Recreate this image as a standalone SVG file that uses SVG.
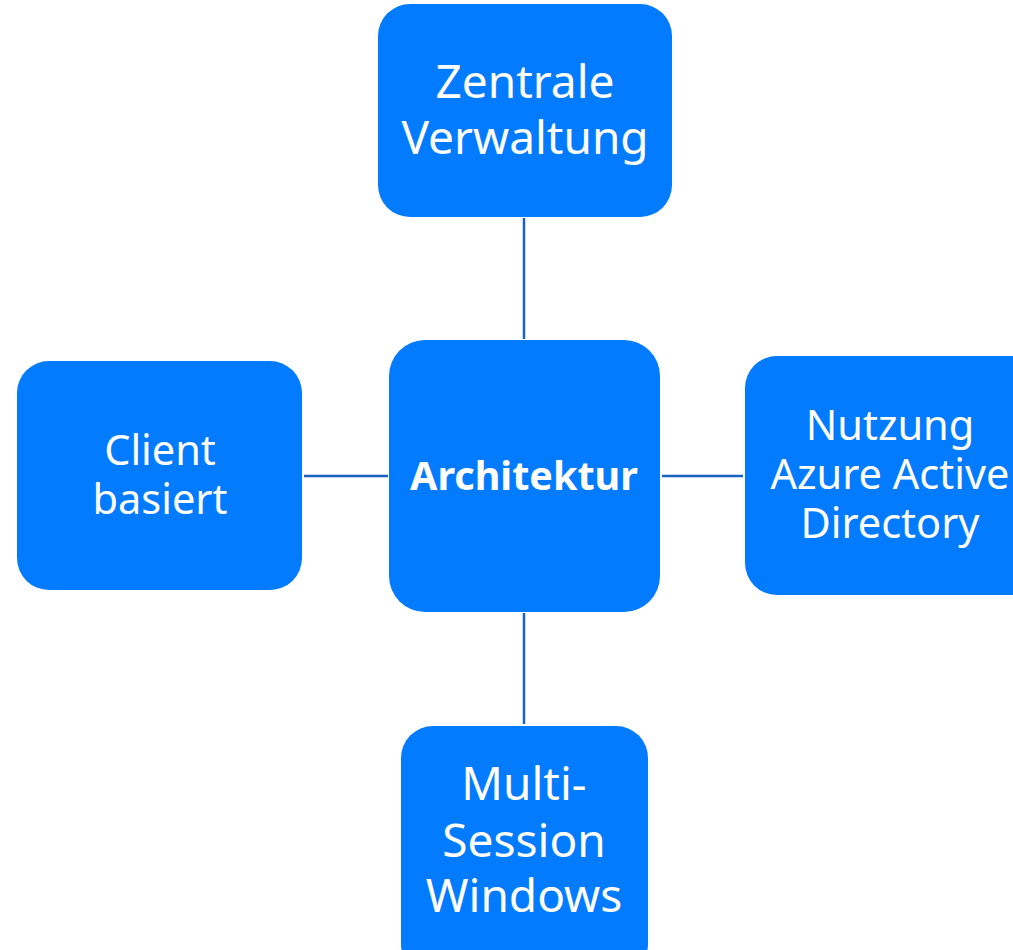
<svg xmlns="http://www.w3.org/2000/svg" width="1013" height="950" viewBox="0 0 1013 950">
<style>
.box{fill:#037BFF;}
.t{fill:#ffffff;font-family:"Noto Sans","Open Sans",sans-serif;text-anchor:middle;}
.big{font-size:46px;}
.mid{font-size:41.5px;}
.bold{font-weight:bold;font-size:39.5px;}
.c{stroke:#1565C0;stroke-width:2.5;fill:none;}
</style>
<rect width="1013" height="950" fill="#ffffff"/>
<g id="connectors">
<line class="c" x1="524" y1="218" x2="524" y2="339"/>
<line class="c" x1="524" y1="613" x2="524" y2="724"/>
<line class="c" x1="304" y1="476" x2="388" y2="476"/>
<line class="c" x1="662" y1="476" x2="743" y2="476"/>
</g>
<g id="node-zentrale">
<rect class="box" x="378" y="4" width="294" height="213" rx="32"/>
<text class="t big" x="525" y="98">Zentrale</text>
<text class="t big" x="525" y="154">Verwaltung</text>
</g>
<g id="node-architektur">
<rect class="box" x="389" y="340" width="271" height="272" rx="36"/>
<text class="t bold" x="524" y="490">Architektur</text>
</g>
<g id="node-azure">
<rect class="box" x="745" y="356" width="300" height="239" rx="32"/>
<text class="t mid" x="890" y="440">Nutzung</text>
<text class="t mid" x="890" y="489">Azure Active</text>
<text class="t mid" x="890" y="538">Directory</text>
</g>
<g id="node-client">
<rect class="box" x="17" y="361" width="285" height="229" rx="32"/>
<text class="t mid" x="160" y="465">Client</text>
<text class="t mid" x="160" y="514">basiert</text>
</g>
<g id="node-multisession">
<rect class="box" x="401" y="726" width="247" height="250" rx="32"/>
<text class="t big" x="524" y="800">Multi-</text>
<text class="t big" x="524" y="857">Session</text>
<text class="t big" x="524" y="912">Windows</text>
</g>
</svg>
